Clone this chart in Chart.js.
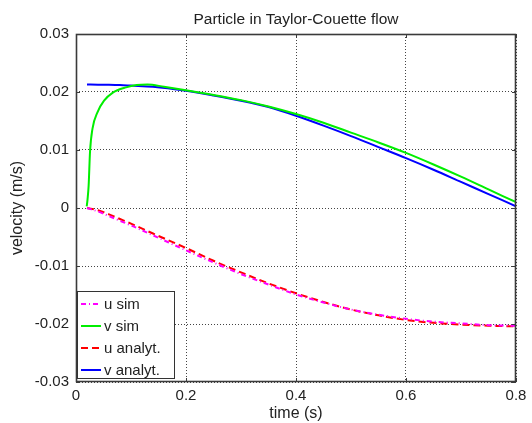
<!DOCTYPE html>
<html>
<head>
<meta charset="utf-8">
<script src="https://cdn.jsdelivr.net/npm/chart.js@4"></script>
<style>
  html, body { margin: 0; padding: 0; background: #fff; }
  #wrap { width: 532px; height: 423px; }
</style>
</head>
<body>
<div id="wrap"><canvas id="grafico"></canvas></div>
<script>
// dados
const tempoUSim = [0.02, 0.04, 0.06, 0.08, 0.10, 0.14, 0.20, 0.25, 0.30, 0.35, 0.40, 0.45, 0.50, 0.55, 0.60, 0.65, 0.70, 0.75, 0.80];
const uSim      = [0, -0.0006, -0.0014, -0.0022, -0.0030, -0.0047, -0.0073, -0.0094, -0.0114, -0.0132, -0.0149, -0.0163, -0.0175, -0.0184, -0.0191, -0.0196, -0.0199, -0.0202, -0.0203];

const tempoVSim = [0.0195, 0.021, 0.023, 0.0255, 0.030, 0.039, 0.051, 0.067, 0.091, 0.11, 0.13, 0.16, 0.20, 0.25, 0.30, 0.35, 0.40, 0.45, 0.50, 0.55, 0.60, 0.65, 0.70, 0.75, 0.80];
const vSim      = [0.0003, 0.0015, 0.0039, 0.0097, 0.0137, 0.0165, 0.0185, 0.0199, 0.0208, 0.0212, 0.0213, 0.0209, 0.0203, 0.0195, 0.0186, 0.0175, 0.0162, 0.0147, 0.0130, 0.0113, 0.0095, 0.0075, 0.0054, 0.0032, 0.0010];

const tempoAnalit = [0.02, 0.04, 0.06, 0.08, 0.10, 0.14, 0.20, 0.25, 0.30, 0.35, 0.40, 0.45, 0.50, 0.55, 0.60, 0.65, 0.70, 0.75, 0.80];
const uAnalit     = [0, -0.0004, -0.0011, -0.0019, -0.0027, -0.0044, -0.0069, -0.0091, -0.0111, -0.0130, -0.0147, -0.0162, -0.0175, -0.0185, -0.0193, -0.0198, -0.0201, -0.0203, -0.0204];
const vAnalit     = [0.02128, 0.02127, 0.02125, 0.0212, 0.0211, 0.0209, 0.0202, 0.0194, 0.0185, 0.0174, 0.0159, 0.0142, 0.0124, 0.0105, 0.0086, 0.0066, 0.0045, 0.0024, 0.0003];

const ticksX = [0, 0.2, 0.4, 0.6, 0.8];
const ticksY = [-0.03, -0.02, -0.01, 0, 0.01, 0.02, 0.03];

function pontos(ts, vs) {
    return ts.map((t, i) => ({ x: t, y: vs[i] }));
}

const fonte = "'Liberation Sans', Arial, Helvetica, sans-serif";
const corTexto = '#222';

// moldura e marcas de escala estilo MATLAB
const moldura = {
    id: 'moldura',
    afterDraw(chart) {
        const { ctx, chartArea: a, scales } = chart;
        ctx.save();
        ctx.strokeStyle = '#3a3a3a';
        ctx.lineWidth = 1.6;
        ctx.setLineDash([]);
        ctx.strokeRect(a.left + 0.5, a.top + 0.5, a.right - a.left - 1, a.bottom - a.top - 1);
        ctx.lineWidth = 1;
        ctx.beginPath();
        ticksX.forEach(v => {
            const x = Math.round(scales.x.getPixelForValue(v)) + 0.5;
            ctx.moveTo(x, a.bottom); ctx.lineTo(x, a.bottom - 4);
            ctx.moveTo(x, a.top); ctx.lineTo(x, a.top + 4);
        });
        ticksY.forEach(v => {
            const y = Math.round(scales.y.getPixelForValue(v)) + 0.5;
            ctx.moveTo(a.left, y); ctx.lineTo(a.left + 4, y);
            ctx.moveTo(a.right, y); ctx.lineTo(a.right - 4, y);
        });
        ctx.stroke();

        // legenda no canto inferior esquerdo
        const bx = a.left + 1, by = 291, bw = 97, bh = 87;
        ctx.fillStyle = '#fff';
        ctx.fillRect(bx, by, bw, bh);
        ctx.strokeStyle = '#333';
        ctx.strokeRect(bx + 0.5, by + 0.5, bw, bh);
        ctx.font = '15px ' + fonte;
        ctx.textBaseline = 'middle';
        chart.data.datasets.forEach((ds, i) => {
            const y = by + 13 + i * 22;
            ctx.strokeStyle = ds.borderColor;
            ctx.lineWidth = 2;
            ctx.setLineDash(ds.borderDash || []);
            ctx.beginPath();
            ctx.moveTo(bx + 4, y); ctx.lineTo(bx + 24, y);
            ctx.stroke();
            ctx.setLineDash([]);
            ctx.fillStyle = corTexto;
            ctx.fillText(ds.label, bx + 27, y + 1);
        });
        ctx.restore();
    }
};

new Chart(document.getElementById('grafico').getContext('2d'), {
    type: 'line',
    data: {
        datasets: [
            { label: 'u sim', data: pontos(tempoUSim, uSim), borderColor: '#ff00ff', borderDash: [5, 3, 1, 3], borderWidth: 2, pointRadius: 0, cubicInterpolationMode: 'monotone' },
            { label: 'v sim', data: pontos(tempoVSim, vSim), borderColor: '#00ee00', borderWidth: 2, pointRadius: 0, cubicInterpolationMode: 'monotone' },
            { label: 'u analyt.', data: pontos(tempoAnalit, uAnalit), borderColor: '#ff0000', borderDash: [7, 4], borderWidth: 2, pointRadius: 0, cubicInterpolationMode: 'monotone' },
            { label: 'v analyt.', data: pontos(tempoAnalit, vAnalit), borderColor: '#0000ff', borderWidth: 2, pointRadius: 0, cubicInterpolationMode: 'monotone' }
        ]
    },
    options: {
        responsive: true,
        maintainAspectRatio: false,
        animation: false,
        layout: { padding: { left: 0, right: 16, top: 0, bottom: 0 } },
        plugins: {
            legend: { display: false },
            tooltip: { enabled: false },
            title: {
                display: true,
                fullSize: false,
                text: 'Particle in Taylor-Couette flow',
                color: corTexto,
                font: { family: fonte, size: 15.5, weight: 'normal' },
                padding: { top: 10, bottom: 5.4 }
            }
        },
        scales: {
            x: {
                type: 'linear',
                min: 0, max: 0.8,
                afterBuildTicks: s => { s.ticks = ticksX.map(v => ({ value: v })); },
                afterFit: s => { s.height = 41; },
                ticks: { color: corTexto, font: { family: fonte, size: 15 }, padding: 5, maxRotation: 0,
                         callback: v => String(v) },
                grid: { color: '#444', lineWidth: 1, drawTicks: false },
                border: { display: false, dash: [1, 2] },
                title: { display: true, text: 'time (s)', color: corTexto, font: { family: fonte, size: 16 }, padding: { top: 0, bottom: 0 } }
            },
            y: {
                type: 'linear',
                min: -0.03, max: 0.03,
                afterBuildTicks: s => { s.ticks = ticksY.map(v => ({ value: v })); },
                afterFit: s => { s.width = 76; },
                ticks: { color: corTexto, font: { family: fonte, size: 15 }, padding: 7,
                         callback: v => String(Math.round(v * 100) / 100) },
                grid: { color: '#444', lineWidth: 1, drawTicks: false },
                border: { display: false, dash: [1, 2] },
                title: { display: true, text: 'velocity (m/s)', color: corTexto, font: { family: fonte, size: 16 }, padding: { top: 8.4, bottom: 0 } }
            }
        }
    },
    plugins: [moldura]
});
</script>
</body>
</html>
